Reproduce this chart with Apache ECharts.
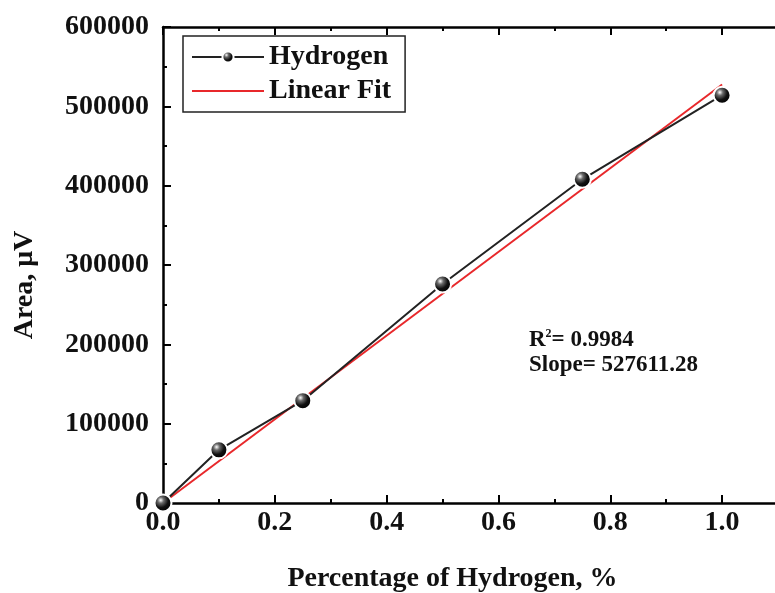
<!DOCTYPE html>
<html>
<head>
<meta charset="utf-8">
<script src="https://cdn.jsdelivr.net/npm/echarts@6/dist/echarts.min.js"></script>
<style>
  html, body { margin: 0; padding: 0; background: #fff; }
  #main { width: 775px; height: 593px; }
</style>
</head>
<body>
<div id="main"></div>
<script>
// measured points (percentage of H2 vs area)
var percent = [0, 0.1, 0.25, 0.5, 0.75, 1.0];
var area = [0, 67000, 129000, 276000, 408000, 514000];
// linear fit end points
var fitX = [0, 1.0];
var fitY = [0, 527611];
var xTicks = [0, 0.2, 0.4, 0.6, 0.8, 1.0];
var yTicks = [0, 100000, 200000, 300000, 400000, 500000, 600000];

var serif = '"Liberation Serif", "DejaVu Serif", serif';

var chart = echarts.init(document.getElementById('main'));

function pairs(xs, ys) {
    var out = [];
    for (var i = 0; i < xs.length; i++) {
        out.push([xs[i], ys[i]]);
    }
    return out;
}

var ball = {
    type: 'radial', x: 0.38, y: 0.35, r: 0.65,
    colorStops: [
        { offset: 0, color: '#ffffff' },
        { offset: 0.25, color: '#6a6a6a' },
        { offset: 0.6, color: '#111111' },
        { offset: 1, color: '#000000' }
    ]
};

var option = {
    backgroundColor: '#fff',
    animation: false,
    grid: { left: 163, right: -3, top: 27, bottom: 90, containLabel: false, outerBoundsMode: 'none' },
    legend: {
        orient: 'vertical',
        left: 183,
        top: 36,
        padding: [7, 14, 7, 8],
        itemGap: 6,
        itemWidth: 72,
        itemHeight: 14,
        borderColor: '#222',
        borderWidth: 1.5,
        textStyle: { fontFamily: serif, fontWeight: 'bold', fontSize: 28, color: '#111' },
        data: [
            { name: 'Hydrogen' },
            { name: 'Linear Fit', itemStyle: { opacity: 0 } }
        ]
    },
    xAxis: [{
        type: 'value',
        min: 0,
        max: 1.1,
        interval: 0.2,
        minorTick: { show: true, splitNumber: 2, length: 4, lineStyle: { color: '#000', width: 2 } },
        axisLine: { show: true, onZero: false, lineStyle: { color: '#000', width: 2.5 } },
        axisTick: { show: true, inside: true, length: 8, lineStyle: { color: '#000', width: 2 } },
        splitLine: { show: false },
        axisLabel: {
            showMaxLabel: false,
            margin: 6,
            fontFamily: serif, fontWeight: 'bold', fontSize: 28, color: '#111',
            formatter: function (v) { return xTicks.indexOf(+v.toFixed(1)) >= 0 ? v.toFixed(1) : ''; }
        },
        name: 'Percentage of Hydrogen, %',
        nameLocation: 'middle',
        nameGap: 62,
        nameTextStyle: { fontFamily: serif, fontWeight: 'bold', fontSize: 28, color: '#111', padding: [0, 36, 0, 0] }
    }, {
        type: 'value',
        position: 'top',
        min: 0,
        max: 1.1,
        interval: 0.2,
        minorTick: { show: true, splitNumber: 2, length: 4, lineStyle: { color: '#000', width: 2 } },
        axisLine: { show: true, onZero: false, lineStyle: { color: '#000', width: 2.5 } },
        axisTick: { show: true, inside: true, length: 8, lineStyle: { color: '#000', width: 2 } },
        axisLabel: { show: false },
        splitLine: { show: false }
    }],
    yAxis: {
        type: 'value',
        min: 0,
        max: 600000,
        interval: 100000,
        minorTick: { show: true, splitNumber: 2, length: 4, lineStyle: { color: '#000', width: 2 } },
        axisLine: { show: true, onZero: false, lineStyle: { color: '#000', width: 2.5 } },
        axisTick: { show: true, inside: true, length: 8, lineStyle: { color: '#000', width: 2 } },
        splitLine: { show: false },
        axisLabel: {
            margin: 14,
            fontFamily: serif, fontWeight: 'bold', fontSize: 28, color: '#111',
            formatter: function (v) { return yTicks.indexOf(v) >= 0 ? String(v) : ''; }
        },
        name: 'Area, μV',
        nameLocation: 'middle',
        nameGap: 138,
        nameRotate: 90,
        nameTextStyle: { fontFamily: serif, fontWeight: 'bold', fontSize: 28, color: '#111', padding: [0, 40, 0, 0], verticalAlign: 'middle' }
    },
    graphic: [{
        type: 'text',
        left: 529,
        top: 328,
        style: {
            text: '{r|R}{s|2}{r|= 0.9984}\n{r|Slope= 527611.28}',
            rich: {
                r: { fontFamily: serif, fontWeight: 'bold', fontSize: 23, fill: '#111', lineHeight: 25 },
                s: { fontFamily: serif, fontWeight: 'bold', fontSize: 12, fill: '#111', verticalAlign: 'top', lineHeight: 25 }
            }
        }
    }],
    series: [{
        name: 'Linear Fit',
        type: 'line',
        data: pairs(fitX, fitY),
        symbol: 'none',
        lineStyle: { color: '#e8282b', width: 2 },
        itemStyle: { color: '#e8282b' },
        z: 2
    }, {
        name: 'Hydrogen',
        type: 'line',
        data: pairs(percent, area),
        symbol: 'circle',
        symbolSize: 17,
        lineStyle: { color: '#222', width: 2 },
        itemStyle: { color: ball, borderColor: '#fff', borderWidth: 2 },
        z: 3
    }]
};

chart.setOption(option);
</script>
</body>
</html>
